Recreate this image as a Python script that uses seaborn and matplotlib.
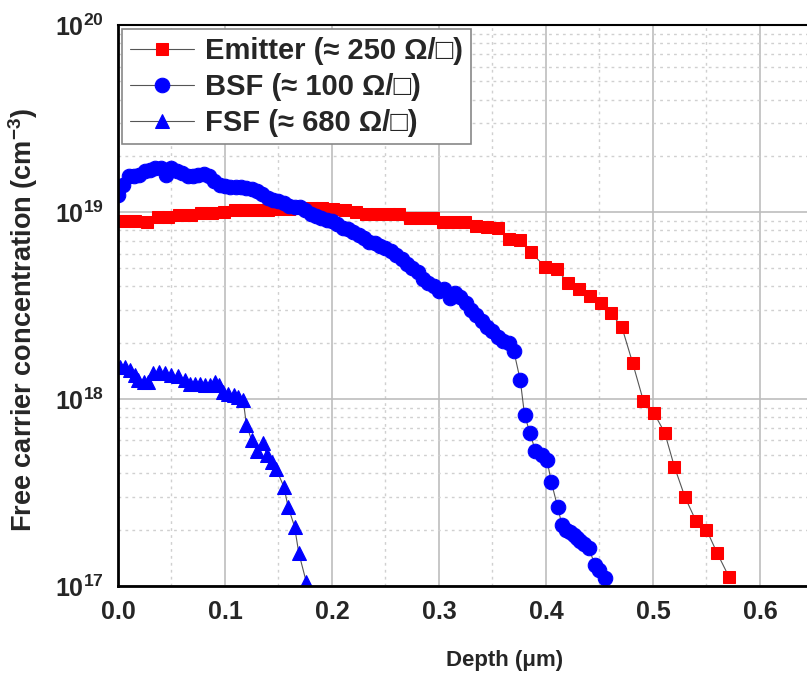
import numpy as np
import pandas as pd
import seaborn as sns
import matplotlib
matplotlib.use('Agg')
import matplotlib.pyplot as plt
from matplotlib.ticker import LogLocator, FuncFormatter, MultipleLocator, NullFormatter

# emitter profile (depth in um, concentration in cm^-3)
emitter_x = [0.006, 0.016, 0.027, 0.037, 0.047, 0.057, 0.068, 0.078, 0.088, 0.099,
             0.109, 0.119, 0.130, 0.140, 0.150, 0.160, 0.170, 0.181, 0.191, 0.201,
             0.212, 0.222, 0.232, 0.242, 0.253, 0.263, 0.273, 0.283, 0.294, 0.304,
             0.314, 0.324, 0.335, 0.345, 0.355, 0.365, 0.376, 0.386, 0.399, 0.410,
             0.421, 0.431, 0.441, 0.451, 0.461, 0.471, 0.481, 0.491, 0.501, 0.511,
             0.520, 0.530, 0.540, 0.550, 0.560, 0.571]
emitter_y = [8.95e18, 8.95e18, 8.9e18, 9.4e18, 9.4e18, 9.6e18, 9.6e18, 9.9e18, 9.9e18, 1.0e19,
             1.02e19, 1.02e19, 1.02e19, 1.03e19, 1.04e19, 1.04e19, 1.05e19, 1.05e19, 1.05e19, 1.04e19,
             1.02e19, 1.0e19, 9.8e18, 9.8e18, 9.8e18, 9.8e18, 9.3e18, 9.3e18, 9.3e18, 8.9e18,
             8.9e18, 8.9e18, 8.4e18, 8.3e18, 8.2e18, 7.2e18, 7.1e18, 6.1e18, 5.1e18, 4.95e18,
             4.16e18, 3.87e18, 3.57e18, 3.28e18, 2.87e18, 2.42e18, 1.56e18, 9.8e17, 8.4e17, 6.6e17,
             4.35e17, 2.98e17, 2.24e17, 2.0e17, 1.5e17, 1.12e17]

# back surface field
bsf_x = [0.000, 0.005, 0.010, 0.015, 0.020, 0.025, 0.030, 0.035, 0.040, 0.045,
         0.050, 0.055, 0.060, 0.065, 0.070, 0.075, 0.080, 0.085, 0.090, 0.095,
         0.100, 0.105, 0.110, 0.115, 0.120, 0.125, 0.130, 0.135, 0.140, 0.145,
         0.150, 0.155, 0.160, 0.165, 0.170, 0.175, 0.180, 0.185, 0.190, 0.195,
         0.200, 0.205, 0.210, 0.215, 0.220, 0.225, 0.230, 0.235, 0.240, 0.245,
         0.250, 0.255, 0.260, 0.265, 0.270, 0.275, 0.280, 0.285, 0.290, 0.295,
         0.300, 0.305, 0.310, 0.315, 0.320, 0.325, 0.330, 0.335, 0.340, 0.345,
         0.350, 0.355, 0.360, 0.365, 0.370, 0.376, 0.380, 0.385, 0.390, 0.396,
         0.401, 0.405, 0.411, 0.415, 0.419, 0.422, 0.426, 0.429, 0.432, 0.436,
         0.440, 0.446, 0.450, 0.455]
bsf_y = [1.23e19, 1.40e19, 1.55e19, 1.56e19, 1.58e19, 1.65e19, 1.68e19, 1.72e19, 1.73e19, 1.58e19,
         1.72e19, 1.66e19, 1.61e19, 1.56e19, 1.55e19, 1.58e19, 1.59e19, 1.56e19, 1.46e19, 1.40e19,
         1.38e19, 1.37e19, 1.36e19, 1.36e19, 1.34e19, 1.33e19, 1.29e19, 1.25e19, 1.19e19, 1.16e19,
         1.15e19, 1.12e19, 1.08e19, 1.07e19, 1.06e19, 1.03e19, 9.8e18, 9.5e18, 9.25e18, 9.1e18,
         9.0e18, 8.6e18, 8.2e18, 8.1e18, 7.8e18, 7.5e18, 7.3e18, 6.9e18, 6.8e18, 6.6e18,
         6.4e18, 6.2e18, 5.9e18, 5.6e18, 5.3e18, 5.0e18, 4.8e18, 4.4e18, 4.2e18, 4.0e18,
         3.8e18, 3.9e18, 3.45e18, 3.7e18, 3.5e18, 3.25e18, 3.0e18, 2.8e18, 2.6e18, 2.44e18,
         2.3e18, 2.15e18, 2.05e18, 2.0e18, 1.8e18, 1.26e18, 8.2e17, 6.6e17, 5.3e17, 5.0e17,
         4.7e17, 3.6e17, 2.63e17, 2.12e17, 2.0e17, 1.95e17, 1.88e17, 1.8e17, 1.73e17, 1.67e17,
         1.59e17, 1.29e17, 1.22e17, 1.11e17]

# front surface field
fsf_x = [0.002, 0.0065, 0.011, 0.016, 0.019, 0.024, 0.028, 0.033, 0.038, 0.044,
         0.050, 0.056, 0.063, 0.067, 0.072, 0.077, 0.081, 0.086, 0.091, 0.094,
         0.098, 0.103, 0.108, 0.112, 0.117, 0.120, 0.125, 0.130, 0.136, 0.139,
         0.144, 0.148, 0.155, 0.159, 0.165, 0.169, 0.176]
fsf_y = [1.49e18, 1.49e18, 1.43e18, 1.34e18, 1.26e18, 1.24e18, 1.24e18, 1.37e18, 1.40e18, 1.37e18,
         1.34e18, 1.32e18, 1.26e18, 1.21e18, 1.21e18, 1.21e18, 1.19e18, 1.19e18, 1.24e18, 1.19e18,
         1.09e18, 1.07e18, 1.05e18, 1.03e18, 0.99e18, 7.3e17, 6.0e17, 5.3e17, 5.8e17, 5.0e17,
         4.6e17, 4.2e17, 3.4e17, 2.65e17, 2.08e17, 1.5e17, 1.05e17]

labels = ['Emitter (\u2248 250 \u03a9/\u25a1)', 'BSF (\u2248 100 \u03a9/\u25a1)', 'FSF (\u2248 680 \u03a9/\u25a1)']

sns.set_style('white')
plt.rcParams['font.family'] = ['Liberation Sans', 'DejaVu Sans']
plt.rcParams['font.weight'] = 'bold'
plt.rcParams['mathtext.fontset'] = 'custom'
plt.rcParams['mathtext.rm'] = 'Liberation Sans:bold'
plt.rcParams['mathtext.bf'] = 'Liberation Sans:bold'

fig = plt.figure(figsize=(8.07, 6.84), dpi=100)
ax = fig.add_axes([0.1462, 0.1433, 0.8618, 0.820])

line_kw = dict(color='#555555', linewidth=0.8, estimator=None, sort=False)
sns.lineplot(x=emitter_x, y=emitter_y, marker='s', markersize=9, markerfacecolor='#ff0000',
             markeredgecolor='#ff0000', label=labels[0], ax=ax, **line_kw)
sns.lineplot(x=bsf_x, y=bsf_y, marker='o', markersize=10.5, markerfacecolor='#0000ff',
             markeredgecolor='#0000ff', label=labels[1], ax=ax, **line_kw)
sns.lineplot(x=fsf_x, y=fsf_y, marker='^', markersize=10.5, markerfacecolor='#0000ff',
             markeredgecolor='#0000ff', label=labels[2], ax=ax, **line_kw)

ax.set_yscale('log')
ax.set_ylim(1e17, 1e20)
ax.set_xlim(0, 0.65)

ax.xaxis.set_major_locator(MultipleLocator(0.1))
ax.xaxis.set_minor_locator(MultipleLocator(0.05))
ax.yaxis.set_major_locator(LogLocator(base=10, numticks=10))
ax.yaxis.set_minor_locator(LogLocator(base=10, subs=np.arange(2, 10), numticks=20))
ax.yaxis.set_minor_formatter(NullFormatter())
ax.yaxis.set_major_formatter(FuncFormatter(lambda v, p: r'$\mathbf{10^{%d}}$' % int(round(np.log10(v)))))
ax.xaxis.set_major_formatter(FuncFormatter(lambda v, p: '%.1f' % v))

ax.grid(which='major', color='#bdbdbd', linewidth=1.2, linestyle='-')
ax.grid(which='minor', color='#d0d0d0', linewidth=1.0, linestyle=(0, (2, 3)))
ax.set_axisbelow(True)

ax.tick_params(axis='both', which='both', length=0, labelsize=18, pad=10)
for lab in ax.get_xticklabels() + ax.get_yticklabels():
    lab.set_fontweight('bold')

for s in ax.spines.values():
    s.set_color('black')
    s.set_linewidth(1.5)
ax.spines['left'].set_linewidth(2)
ax.spines['bottom'].set_linewidth(2)

ax.set_xlabel('Depth (\u03bcm)', fontsize=16, fontweight='bold')
ax.xaxis.set_label_coords(0.556, -0.115)
ax.set_ylabel('Free carrier concentration (cm$^{\\mathbf{-3}}$)', fontsize=19.5, fontweight='bold')
ax.yaxis.set_label_coords(-0.112, 0.475)

leg = ax.legend(loc='upper left', bbox_to_anchor=(0.0, 1.0), fontsize=21, frameon=True,
                fancybox=False, edgecolor='#888888', framealpha=1, handlelength=2.2,
                handletextpad=0.4, borderpad=0.25, labelspacing=0.28, borderaxespad=0.15)
leg.get_frame().set_linewidth(1.2)
for t in leg.get_texts():
    t.set_fontweight('bold')

fig.savefig('out.png', dpi=100)
